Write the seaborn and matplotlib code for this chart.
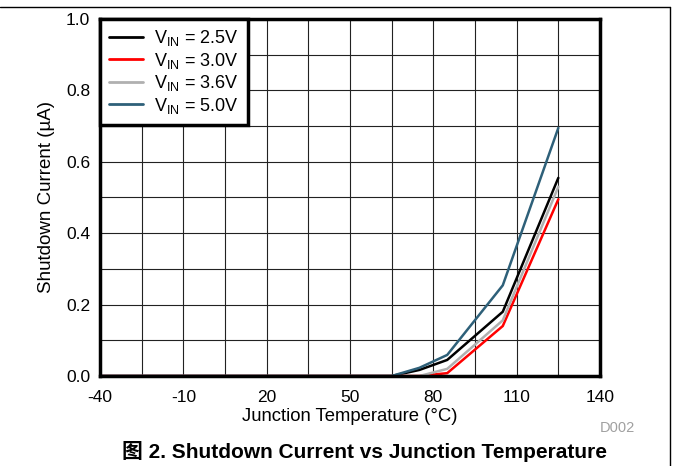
import numpy as np
import pandas as pd
import matplotlib.pyplot as plt
from matplotlib.lines import Line2D
from matplotlib.ticker import MultipleLocator
import seaborn as sns

# Data
temp = [-40, -10, 20, 50, 65, 75, 85, 105, 125]
i_25 = [0, 0, 0, 0, 0, 0.017, 0.045, 0.18, 0.555]
i_30 = [0, 0, 0, 0, 0, 0, 0.008, 0.14, 0.495]
i_36 = [0, 0, 0, 0, 0, 0, 0.02, 0.156, 0.53]
i_50 = [0, 0, 0, 0, 0, 0.023, 0.059, 0.254, 0.695]
labels = [r"V$_{\mathregular{IN}}$ = 2.5V", r"V$_{\mathregular{IN}}$ = 3.0V",
          r"V$_{\mathregular{IN}}$ = 3.6V", r"V$_{\mathregular{IN}}$ = 5.0V"]
colors = ["#000000", "#ff0000", "#b0b0b0", "#2e6079"]
xticks = [-40, -10, 20, 50, 80, 110, 140]

df = pd.concat([
    pd.DataFrame({"Temp": temp, "Current": vals, "Series": lab})
    for vals, lab in zip([i_25, i_30, i_36, i_50], labels)
])

sns.set_style("white")
plt.rcParams['font.family'] = ['Liberation Sans', 'Noto Sans CJK SC', 'DejaVu Sans']
plt.rcParams['mathtext.fontset'] = 'custom'
plt.rcParams['mathtext.rm'] = 'Liberation Sans'
plt.rcParams['axes.unicode_minus'] = False
plt.rcParams['text.color'] = 'black'
plt.rcParams['axes.labelcolor'] = 'black'
plt.rcParams['xtick.color'] = 'black'
plt.rcParams['ytick.color'] = 'black'

fig = plt.figure(figsize=(6.74, 4.66), dpi=100)
ax = fig.add_axes([100 / 674, 1 - 376 / 466, 500 / 674, 357 / 466])

sns.lineplot(data=df, x="Temp", y="Current", hue="Series", palette=colors,
             linewidth=1.8, ax=ax, zorder=3)

ax.set_xlim(-40, 140)
ax.set_ylim(0, 1.0)
ax.set_xticks(xticks)
ax.set_xticks(np.arange(-25, 140, 30), minor=True)
ax.yaxis.set_major_locator(MultipleLocator(0.2))
ax.yaxis.set_minor_locator(MultipleLocator(0.1))
ax.yaxis.set_major_formatter(plt.FormatStrFormatter('%.1f'))
ax.grid(which='both', color='#222222', linewidth=0.8)
ax.set_axisbelow(True)
ax.tick_params(which='both', length=0, labelsize=12.5)
ax.tick_params(axis='x', pad=10)
ax.tick_params(axis='y', pad=7)
for s in ax.spines.values():
    s.set_linewidth(2.5)
    s.set_color('black')
    s.set_zorder(5)

ax.set_xlabel("Junction Temperature (°C)", fontsize=13.3, labelpad=2)
ax.set_ylabel("Shutdown Current (µA)", fontsize=13.5, labelpad=8)

leg = ax.legend(loc='upper left', fontsize=13, frameon=True, fancybox=False,
                borderaxespad=0, handlelength=1.9, labelspacing=0.14,
                borderpad=0.5, handletextpad=0.6, framealpha=1)
leg.set_title(None)
leg.get_frame().set_edgecolor('black')
leg.get_frame().set_linewidth(2.5)
leg.set_zorder(6)
for h in leg.get_lines():
    h.set_linewidth(2)

fig.text(635 / 674, 1 - 428 / 466, "D002", color='#a0a0a0', fontsize=10.5,
         ha='right', va='center')
fig.text(364 / 674, 1 - 452 / 466, "图 2. Shutdown Current vs Junction Temperature",
         fontsize=15, fontweight='bold', ha='center', va='center')

# page border lines (top and right)
fig.add_artist(Line2D([0, 670 / 674], [1 - 7 / 466, 1 - 7 / 466], color='black', lw=1))
fig.add_artist(Line2D([670 / 674, 670 / 674], [1 - 7 / 466, 0], color='black', lw=1))

fig.savefig("out.png", dpi=100)
